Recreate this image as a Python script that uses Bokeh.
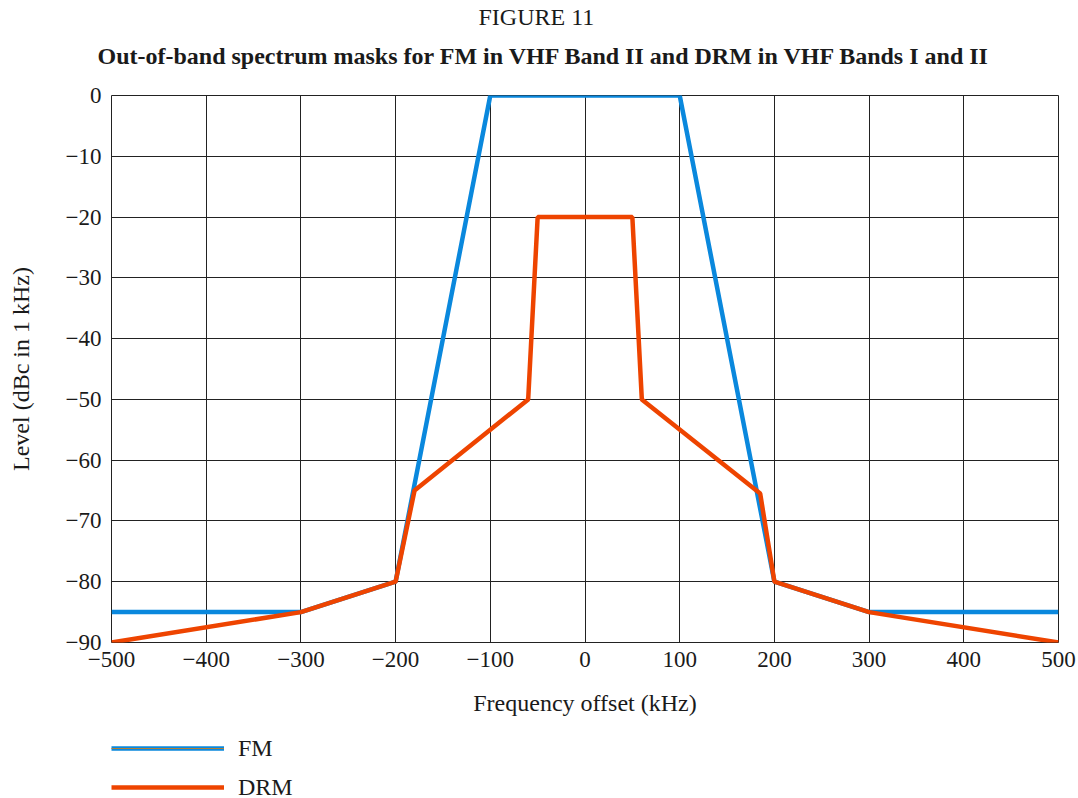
from bokeh.plotting import figure
from bokeh.models import Legend, LegendItem, FixedTicker, Range1d, Title
from bokeh.layouts import column
from bokeh.embed import file_html
from bokeh.resources import INLINE

# Data
fm_x = [-500, -300, -200, -100, 100, 200, 300, 500]
fm_y = [-85, -85, -80, 0, 0, -80, -85, -85]
drm_x = [-500, -300, -200, -180, -60, -50, 50, 60, 185, 200, 300, 500]
drm_y = [-90, -85, -80, -65, -50, -20, -20, -50, -65.5, -80, -85, -90]
x_ticks = [-500, -400, -300, -200, -100, 0, 100, 200, 300, 400, 500]
y_ticks = [0, -10, -20, -30, -40, -50, -60, -70, -80, -90]
figure_label = "FIGURE 11"
chart_title = "Out-of-band spectrum masks for FM in VHF Band II and DRM in VHF Bands I and II"

FONT = "Liberation Serif"
FM_COLOR = "#0A88DD"
DRM_COLOR = "#EE4400"
TEXT_COLOR = "#1a1a1a"
W = 1078

def fmt(v):
    return ("\u2212" + str(abs(v))) if v < 0 else str(v)

# Main chart
p = figure(width=W, height=720, output_backend="svg", toolbar_location=None,
           x_range=Range1d(-500, 500), y_range=Range1d(-90, 0),
           min_border_left=111, min_border_right=20, min_border_top=95, min_border_bottom=78)

# outermost title
p.title.text = figure_label
p.title.align = "left"
p.title.offset = 367
p.title.text_font = FONT
p.title.text_font_size = "24px"
p.title.text_font_style = "normal"
p.title.text_color = TEXT_COLOR
p.title.standoff = 0
# spacer (closest to the frame), then the bold chart title
p.add_layout(Title(text=" ", text_font_size="1px", standoff=13), "above")
p.add_layout(Title(text=chart_title, align="left", offset=-14, text_font=FONT,
                   text_font_size="24px", text_font_style="bold", text_color=TEXT_COLOR,
                   standoff=22), "above")

fm = p.line(fm_x, fm_y, line_color=FM_COLOR, line_width=4.5)
drm = p.line(drm_x, drm_y, line_color=DRM_COLOR, line_width=4.5)

for ax in (p.xaxis[0], p.yaxis[0]):
    ax.major_tick_line_color = None
    ax.minor_tick_line_color = None
    ax.axis_line_color = None
    ax.major_label_text_font = FONT
    ax.major_label_text_font_size = "23px"
    ax.major_label_text_color = TEXT_COLOR
    ax.axis_label_text_font = FONT
    ax.axis_label_text_font_size = "24px"
    ax.axis_label_text_font_style = "normal"
    ax.axis_label_text_color = TEXT_COLOR

p.xaxis.ticker = FixedTicker(ticks=x_ticks)
p.yaxis.ticker = FixedTicker(ticks=y_ticks)
p.xaxis.major_label_overrides = {t: fmt(t) for t in x_ticks}
p.yaxis.major_label_overrides = {t: fmt(t) for t in y_ticks}
p.xaxis.axis_label = "Frequency offset (kHz)"
p.yaxis.axis_label = "Level (dBc in 1 kHz)"
p.xaxis.major_label_standoff = 3
p.xaxis.axis_label_standoff = 20
p.yaxis.major_label_standoff = 4
p.yaxis.axis_label_standoff = 29

for g in (p.xgrid[0], p.ygrid[0]):
    g.grid_line_color = "#222222"
    g.grid_line_width = 1
p.outline_line_color = "#222222"
p.outline_line_width = 1

# Legend panel
lg = figure(width=W, height=78, output_backend="svg", toolbar_location=None,
            x_range=Range1d(0, 1), y_range=Range1d(0, 1),
            x_axis_location=None, y_axis_location=None,
            min_border_left=111, min_border_right=20, min_border_top=14, min_border_bottom=0)
lg.outline_line_color = None
lg.grid.visible = False
fm_leg = lg.line(fm_x[:1], fm_y[:1], line_color=FM_COLOR, line_width=4.5)
fm_leg_core = lg.line(fm_x[:1], fm_y[:1], line_color="#B08038", line_width=1)
drm_leg = lg.line(drm_x[:1], drm_y[:1], line_color=DRM_COLOR, line_width=4.5)
legend = Legend(items=[LegendItem(label="FM", renderers=[fm_leg, fm_leg_core]),
                       LegendItem(label="DRM", renderers=[drm_leg])],
                orientation="vertical", location="top_left",
                glyph_width=113, glyph_height=28, label_height=28, label_standoff=14,
                label_text_font=FONT, label_text_font_size="24px", label_text_color=TEXT_COLOR,
                spacing=11, padding=0, margin=0, border_line_color=None,
                background_fill_alpha=0)
lg.add_layout(legend, "center")

layout = column(p, lg, spacing=0)
open("out.html", "w").write(file_html(layout, INLINE))
